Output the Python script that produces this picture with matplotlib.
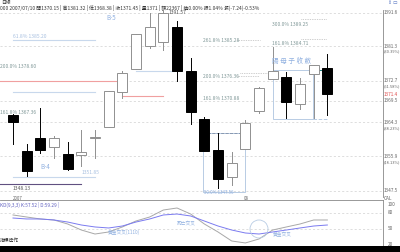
import matplotlib
matplotlib.use('Agg')
import matplotlib.pyplot as plt
from matplotlib.patches import Rectangle, Ellipse

plt.rcParams['font.family'] = ['Noto Sans CJK TC', 'DejaVu Sans']

#------------------------------------------------------------------------------
# data

opens  = [1365.5, 1357.1, 1360.1, 1358.0, 1356.4, 1356.1, 1360.1, 1362.7,
          1370.9, 1376.2, 1381.6, 1382.5, 1386.1, 1375.8, 1364.6, 1357.3,
          1351.0, 1357.5, 1366.4, 1373.9, 1374.4, 1368.1, 1375.1, 1376.5]
highs  = [1365.8, 1358.7, 1367.1, 1360.6, 1359.2, 1362.0, 1362.0, 1371.1,
          1375.8, 1384.4, 1389.3, 1390.0, 1387.5, 1378.8, 1365.0, 1361.3,
          1356.8, 1364.3, 1372.0, 1381.3, 1375.5, 1374.1, 1377.2, 1379.7]
lows   = [1358.7, 1351.2, 1356.6, 1355.4, 1352.6, 1353.6, 1355.4, 1362.7,
          1369.5, 1376.2, 1381.1, 1380.7, 1373.4, 1363.4, 1357.1, 1348.4,
          1349.1, 1357.5, 1366.0, 1373.9, 1364.8, 1366.9, 1364.8, 1365.5]
closes = [1363.9, 1352.4, 1357.3, 1360.1, 1352.9, 1356.8, 1360.1, 1371.1,
          1375.3, 1384.4, 1386.1, 1389.3, 1375.8, 1366.2, 1357.1, 1350.5,
          1354.3, 1363.6, 1371.8, 1375.8, 1368.5, 1372.7, 1377.2, 1370.4]

k_vals = [76.3, 72.5, 68.8, 66.9, 59.4, 48.1, 40.6, 44.4, 53.8, 65.0, 72.5,
          85.6, 89.4, 78.1, 59.4, 44.4, 27.5, 23.8, 31.3, 48.1, 53.8, 59.4,
          66.9, 66.9]
d_vals = [70.6, 68.8, 68.8, 66.9, 63.1, 57.5, 53.8, 51.9, 55.6, 63.1, 68.8,
          76.3, 78.1, 74.4, 65.0, 55.6, 48.1, 42.5, 40.6, 44.4, 48.1, 51.9,
          55.6, 57.5]

grid_prices = [1389.3, 1381.6, 1373.4, 1368.8, 1363.9, 1355.9, 1347.7]
kd_grid = [80, 50]

# fibonacci / pattern lines: price, first bar, last bar
fib_prices = [1383.0, 1373.4, 1369.9, 1370.9, 1375.8, 1351.0, 1349.4]
fib_start  = [0, -1, 8, 0, 9, 0, -1]
fib_end    = [6, 7.8, 11, 6, 11.8, 6, 5]
fib_colors = ['#c8d8ec', '#f0a0a0', '#f0a0a0', '#c8d8ec', '#c8d8ec',
              '#c8d8ec', '#605080']

dot_prices = [1383.0, 1374.6, 1375.3, 1388.0, 1383.3]
dot_start  = [16.4, 16.4, 16.6, 21.1, 21.1]
dot_end    = [18.1, 18.0, 18.6, 23.0, 23.0]

# boxes: first bar, last bar, low, high
box_x0 = [19.0, 13.9]
box_x1 = [21.95, 17.0]
box_lo = [1364.6, 1347.5]
box_hi = [1376.0, 1361.3]

right_labels = ['1391.6', '1381.3', '(30.39%)', '1372.7', '(61.58%)', '1371.4',
                '1369.5', '1364.3', '(38.23%)', '1355.9', '(18.13%)', '1347.5',
                'CAL']
right_label_y = [13, 46, 51, 81, 86, 94, 101, 123, 128, 157, 162, 191, 199]

kd_labels = ['100', '80', '50', '20']
kd_label_y = [204, 213, 229, 245]

header = ('000 2007/07/10 開1370.15 | 高1381.32 | 低1368.38 | 收1371.45 | '
          '量1371 | 額22367 | 換0.00% 振1.04% 漲(-7.24)-0.53%')


def ftext(fig, x, y, s, **kw):
    # place text by pixel position (origin top left)
    kw.setdefault('fontsize', 3.6)
    kw.setdefault('va', 'center')
    fig.text(x / 400.0, 1 - y / 252.0, s, **kw)


def main():

    fig = plt.figure(figsize=(4.0, 2.52), dpi=100)
    fig.patch.set_facecolor('white')

    #--------------------------------------------------------------------------
    # main candle panel

    ax = fig.add_axes([0, 1 - 197 / 252.0, 383 / 400.0, 187 / 252.0])
    ax.set_xlim(-0.95, 27.07)
    ax.set_ylim(1346.33, 1390.02)
    ax.set_xticks([])
    ax.set_yticks([])
    for s in ['top', 'left', 'bottom']:
        ax.spines[s].set_visible(False)
    ax.spines['right'].set_color('#888888')
    ax.spines['right'].set_linewidth(0.6)

    for p in grid_prices:
        ax.axhline(p, color='#d0d0d0', lw=0.5, ls=(0, (3, 3)), zorder=0)

    for p, a, b, c in zip(fib_prices, fib_start, fib_end, fib_colors):
        ax.plot([a, b], [p, p], color=c, lw=0.8, zorder=1)

    for p, a, b in zip(dot_prices, dot_start, dot_end):
        ax.plot([a, b], [p, p], color='#a0a0a0', lw=0.5, ls=(0, (1, 1.5)),
                zorder=1)

    for x0, x1, lo, hi in zip(box_x0, box_x1, box_lo, box_hi):
        ax.add_patch(Rectangle((x0, lo), x1 - x0, hi - lo, fill=False,
                               ec='#b8cce4', lw=0.7, zorder=1))
    ax.plot([box_x1[0], 23.0], [box_lo[0], box_lo[0]], color='#b8cce4',
            lw=0.7, ls='--')
    ax.plot([box_x1[0], 23.0], [box_hi[0], box_hi[0]], color='#208080', lw=0.7)
    ax.plot([box_x0[1], 17.4], [box_hi[1], box_hi[1]], color='#8090a8',
            lw=0.6, ls='--')

    w = 0.73
    for i, (o, h, l, c) in enumerate(zip(opens, highs, lows, closes)):
        up = c >= o
        ec = '#909090' if up else 'black'
        ax.plot([i, i], [l, h], color=ec, lw=0.7, zorder=2)
        lo_b = min(o, c)
        hgt = max(abs(c - o), 0.15)
        ax.add_patch(Rectangle((i - w / 2, lo_b), w, hgt,
                               fc='white' if up else 'black', ec=ec,
                               lw=0.7, zorder=3))

    #--------------------------------------------------------------------------
    # KD panel

    kx = fig.add_axes([0, 1 - 246 / 252.0, 383 / 400.0, 46 / 252.0])
    kx.set_xlim(-0.95, 27.07)
    kx.set_ylim(18.1, 104.4)
    kx.set_xticks([])
    kx.set_yticks([])
    for s in ['left', 'bottom']:
        kx.spines[s].set_visible(False)
    kx.spines['top'].set_color('#888888')
    kx.spines['top'].set_linewidth(0.6)
    kx.spines['right'].set_color('#888888')
    kx.spines['right'].set_linewidth(0.6)
    for g in kd_grid:
        kx.axhline(g, color='#d0d0d0', lw=0.5, ls=(0, (3, 3)), zorder=0)

    xs = list(range(len(k_vals)))
    kx.plot(xs, k_vals, color='#a8a8a8', lw=0.7)
    kx.plot(xs, d_vals, color='#7b7bf0', lw=0.7)

    #--------------------------------------------------------------------------
    # texts

    ftext(fig, 1, 3, '日線', color='#333333', fontsize=3.4)
    ftext(fig, 0, 8, header, color='#333333', fontsize=3.5)
    ftext(fig, 388, 3, '⇕ ▭', color='#5070c0', fontsize=3.4)

    ftext(fig, 106, 18, 'B-5', color='#90b0e0', fontsize=4.5)
    ftext(fig, 40, 167, 'B-4', color='#90b0e0', fontsize=4.5)
    ftext(fig, 272, 61, '陽 母 子 收 斂', color='#90b0e0', fontsize=4.8)

    ftext(fig, 13, 37, '61.8% 1385.20', color='#a8c0e0')
    ftext(fig, 0, 67, '200.0% 1378.60', color='#809898')
    ftext(fig, 0, 112, '161.8% 1367.36', color='#809898')
    ftext(fig, 82, 172, '1351.85', color='#a8c0e0')
    ftext(fig, 13, 189, '1348.13', color='#555555')
    ftext(fig, 169, 12, '1391.57', color='#555555')
    ftext(fig, 203, 40, '261.8% 1385.28', color='#809898')
    ftext(fig, 203, 76, '200.0% 1376.36', color='#809898')
    ftext(fig, 203, 99, '161.8% 1370.88', color='#809898')
    ftext(fig, 272, 24, '300.0% 1389.25', color='#809898')
    ftext(fig, 272, 43, '161.8% 1384.71', color='#809898')
    ftext(fig, 204, 192, '50.0% 1347.56', color='#90b0e0', fontsize=3.2)

    for s, y in zip(right_labels, right_label_y):
        col = '#e05050' if s == '1371.4' else '#666666'
        size = 2.9 if s.startswith('(') else 3.4
        ftext(fig, 384, y, s, color=col, fontsize=size)
    for s, y in zip(kd_labels, kd_label_y):
        ftext(fig, 388, y, s, color='#666666', fontsize=3.4)

    ftext(fig, 13, 199, '2007', color='#666666', fontsize=3.2)
    ftext(fig, 244, 199, '08', color='#666666', fontsize=3.2)

    ftext(fig, 0, 205, 'KD(9,3,3) K:57.52 | D:59.29 |', color='#6060c0',
          fontsize=3.4)
    ftext(fig, 108, 232, '黃金交叉(1110)', color='#90b0e0', fontsize=3.4)
    ftext(fig, 177, 223, '死亡交叉', color='#90b0e0', fontsize=3.4)
    ftext(fig, 273, 235, '黃金交叉', color='#90b0e0', fontsize=3.4)
    fig.add_artist(Ellipse((259 / 400.0, 1 - 229 / 252.0), 18 / 400.0,
                           18 / 252.0, transform=fig.transFigure, fill=False,
                           ec='#b8cce4', lw=0.6))
    ftext(fig, 0, 241, '指標操作', color='#333333', fontsize=3.4)

    # black strip at the very bottom
    fig.add_artist(Rectangle((0, 0), 1, 6 / 252.0, transform=fig.transFigure,
                             fc='black', ec='none'))

    fig.savefig('out.png', dpi=100)


if __name__ == "__main__":
    main()
